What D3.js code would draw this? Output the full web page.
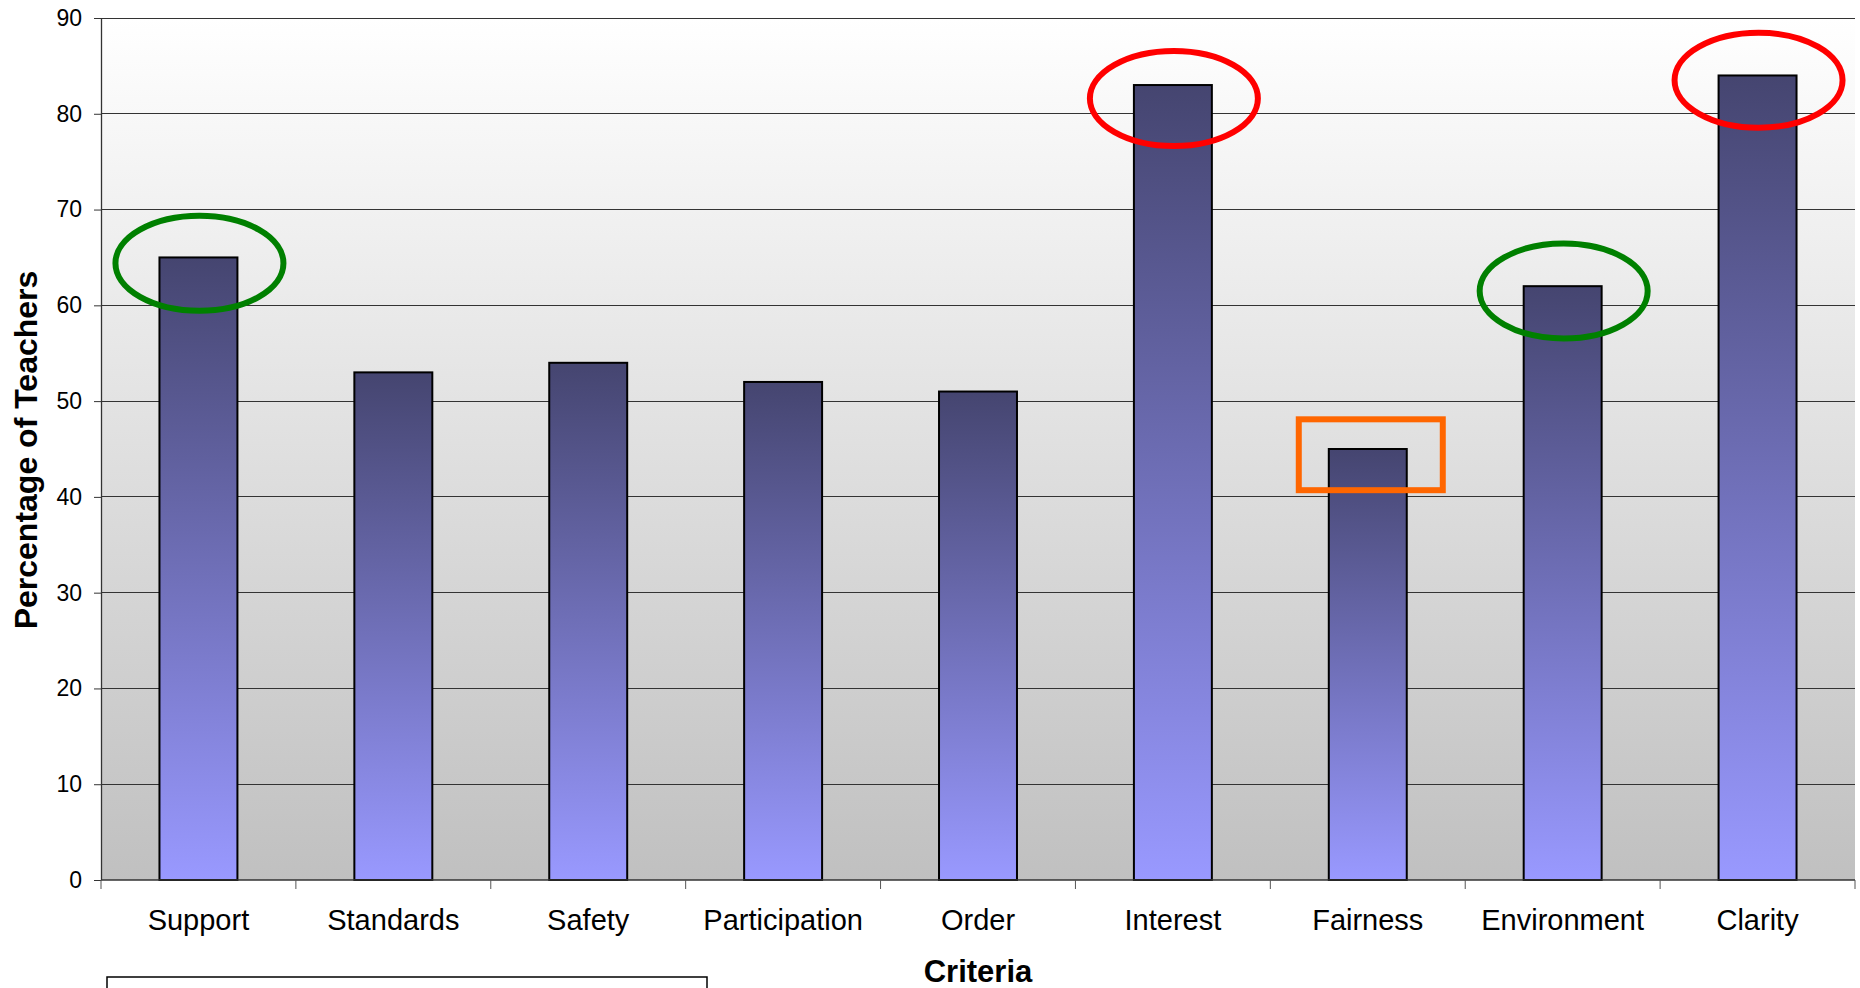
<!DOCTYPE html>
<html>
<head>
<meta charset="utf-8">
<script src="https://cdn.jsdelivr.net/npm/d3@7/dist/d3.min.js"></script>
<style>
  html, body { margin: 0; padding: 0; background: #ffffff; }
  svg { display: block; font-family: "Liberation Sans", Arial, sans-serif; }
</style>
</head>
<body>
<svg id="chart" width="1860" height="988"></svg>
<script>
// ---- data ----
const categories = ["Support", "Standards", "Safety", "Participation", "Order", "Interest", "Fairness", "Environment", "Clarity"];
const values = [65, 53, 54, 52, 51, 83, 45, 62, 84];
const yTicks = [0, 10, 20, 30, 40, 50, 60, 70, 80, 90];
const xTitle = "Criteria";
const yTitle = "Percentage of Teachers";
// annotations: ellipses around bars (category, centre value)
const ellipseCats = ["Support", "Interest", "Environment", "Clarity"];
const ellipseCentres = [64.4, 81.6, 61.5, 83.5];
const ellipseColours = ["#008000", "#ff0000", "#008000", "#ff0000"];
// annotation: box around bar (category, value span)
const boxCats = ["Fairness"];
const boxLow = [40.7];
const boxHigh = [48.1];
const boxColours = ["#ff6600"];

// ---- layout ----
const svg = d3.select("#chart");
const pLeft = 101, pRight = 1855, pTop = 18, pBottom = 880;

const x = d3.scaleBand().domain(categories).range([pLeft, pRight]).paddingInner(0.6).paddingOuter(0.3);
const y = d3.scaleLinear().domain([0, 90]).range([pBottom, pTop]);

const defs = svg.append("defs");
const bg = defs.append("linearGradient").attr("id", "bgGrad").attr("x1", 0).attr("y1", 0).attr("x2", 0).attr("y2", 1);
bg.append("stop").attr("offset", "0%").attr("stop-color", "#ffffff");
bg.append("stop").attr("offset", "100%").attr("stop-color", "#c0c0c0");

const bg2 = defs.append("linearGradient").attr("id", "barGrad").attr("x1", 0).attr("y1", 0).attr("x2", 0).attr("y2", 1);
bg2.append("stop").attr("offset", "0%").attr("stop-color", "#454570");
bg2.append("stop").attr("offset", "100%").attr("stop-color", "#9999ff");

// plot background
svg.append("rect").attr("x", pLeft).attr("y", pTop).attr("width", pRight - pLeft).attr("height", pBottom - pTop)
  .attr("fill", "url(#bgGrad)");

// gridlines
svg.append("g").selectAll("line").data(yTicks.filter(d => d > 0)).join("line")
  .attr("x1", pLeft).attr("x2", pRight)
  .attr("y1", d => y(d)).attr("y2", d => y(d))
  .attr("stroke", "#333").attr("stroke-width", 1).attr("shape-rendering", "crispEdges");

// bars
svg.append("g").selectAll("rect").data(categories).join("rect")
  .attr("x", d => x(d))
  .attr("y", (d, i) => y(values[i]))
  .attr("width", x.bandwidth())
  .attr("height", (d, i) => y(0) - y(values[i]))
  .attr("fill", "url(#barGrad)")
  .attr("stroke", "#000").attr("stroke-width", 2);

// y axis
const yAxis = d3.axisLeft(y).tickValues(yTicks).tickSize(7).tickPadding(12).tickSizeOuter(0);
const yg = svg.append("g").attr("transform", `translate(${pLeft},0)`).call(yAxis);
yg.select(".domain").attr("stroke", "#333").attr("stroke-width", 1.3);
yg.selectAll(".tick line").attr("stroke", "#333");
yg.selectAll(".tick text").attr("font-size", 23).attr("fill", "#000").attr("font-family", "Liberation Sans, Arial, sans-serif");

// x axis
const step = x.step();
const x0 = x(categories[0]) - step * x.paddingOuter();
const xg = svg.append("g");
xg.append("line").attr("x1", pLeft).attr("x2", pRight).attr("y1", pBottom).attr("y2", pBottom)
  .attr("stroke", "#333").attr("stroke-width", 1.3);
xg.selectAll("line.tk").data(d3.range(categories.length + 1)).join("line").attr("class", "tk")
  .attr("x1", i => x0 + i * step)
  .attr("x2", i => x0 + i * step)
  .attr("y1", pBottom).attr("y2", pBottom + 9)
  .attr("stroke", "#555").attr("stroke-width", 1);
xg.selectAll("text").data(categories).join("text")
  .attr("x", d => x(d) + x.bandwidth() / 2)
  .attr("y", 930)
  .attr("text-anchor", "middle")
  .attr("font-size", 29)
  .attr("fill", "#000")
  .text(d => d);

// titles
svg.append("text").attr("x", (pLeft + pRight) / 2).attr("y", 982).attr("text-anchor", "middle")
  .attr("font-size", 31).attr("font-weight", "bold").text(xTitle);
svg.append("text").attr("transform", `translate(37,${(pTop + pBottom) / 2 + 1}) rotate(-90)`)
  .attr("text-anchor", "middle").attr("font-size", 32).attr("font-weight", "bold").text(yTitle);

// annotations
svg.append("g").selectAll("ellipse").data(ellipseCats).join("ellipse")
  .attr("cx", d => x(d) + x.bandwidth() / 2 + 1)
  .attr("cy", (d, i) => y(ellipseCentres[i]))
  .attr("rx", 84).attr("ry", 47.5)
  .attr("fill", "none")
  .attr("stroke", (d, i) => ellipseColours[i])
  .attr("stroke-width", 6);

svg.append("g").selectAll("rect").data(boxCats).join("rect")
  .attr("x", d => x(d) + x.bandwidth() / 2 - 69)
  .attr("y", (d, i) => y(boxHigh[i]))
  .attr("width", 144)
  .attr("height", (d, i) => y(boxLow[i]) - y(boxHigh[i]))
  .attr("fill", "none")
  .attr("stroke", (d, i) => boxColours[i])
  .attr("stroke-width", 6);

// legend box (cropped at bottom)
svg.append("rect").attr("x", 107).attr("y", 977).attr("width", 600).attr("height", 40)
  .attr("fill", "#fff").attr("stroke", "#000").attr("stroke-width", 1.5);
</script>
</body>
</html>
